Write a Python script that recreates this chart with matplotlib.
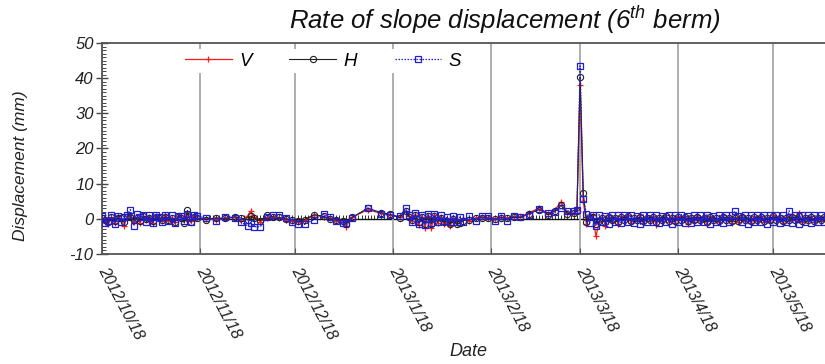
import matplotlib
matplotlib.use("Agg")
import matplotlib.pyplot as plt
import matplotlib.dates as mdates
from matplotlib.ticker import MultipleLocator, FuncFormatter, NullFormatter
import numpy as np
import pandas as pd

plt.rcParams['font.family'] = ['Liberation Sans', 'DejaVu Sans']
plt.rcParams['mathtext.fontset'] = 'custom'
plt.rcParams['mathtext.rm'] = 'Liberation Sans:italic'
plt.rcParams['mathtext.it'] = 'Liberation Sans:italic'
plt.rcParams['axes.unicode_minus'] = False

start_date = "2012-10-18"
end_date = "2013-06-16"
tick_day = 18

# measurement day offsets from 2012/10/18
days = (list(range(0, 31))
        + [33, 36, 39, 42, 44, 46, 47, 48, 50, 52, 54, 56, 58, 60, 62, 64, 67, 70]
        + [72, 74, 76, 77, 79, 84, 88, 91]
        + [94, 96, 97, 98, 99, 100, 101, 102, 103, 104, 105, 106, 107, 108, 109,
           110, 111, 112, 113, 114, 116, 118, 120, 122, 124, 126, 128, 130]
        + [132, 135, 138, 141, 143, 145, 147, 149, 150, 151, 152]
        + list(range(153, 229)))

V = ([0.3, -0.8, -1.6, 0.5, -1.2, 0.9, -0.4, -1.9, 0.7, 1.1, -0.8, 0.4, -1.1, 0.9, -0.2, 0.6,
      -1.3, 0.8, 0.2, -0.7, 1.2, -0.5, 0.3, -1.0, 0.8, 0.5, -0.3, 1.5, -0.6, 0.7, 0.2]
     + [0.0, -0.3, 0.2, 0.4, -0.5, 0.8, 2.2, 0.5, -0.8, 0.3, 0.5, 0.2, -0.3, -0.6, -0.8, -0.4, 1.0, 0.6]
     + [0.2, -0.5, -1.0, -2.2, 0.5, 2.6, 1.6, 1.0]
     + [0.5, 2.0, 0.8, -0.5, 1.2, -1.8, 0.6, -2.5, 0.9, -2.7, 1.0, -1.2, 0.4, -1.5, -0.8, -2.0,
        0.3, -1.2, -0.6, 0.2, -0.5, 0.2, 0.5, 0.3, 0.0, 0.4, 0.2, 0.6]
     + [0.5, 1.8, 3.0, 1.5, 2.5, 4.8, 1.8, 1.5, 2.5, 38.0, 5.0]
     + [-1.5, 0.8, 1.2, -5.0, -1.0, 0.5, -2.0, 1.0, -0.8, 0.6,
        -1.5, 0.9, -0.4, 1.1, -1.2, 0.3, -0.7, 1.0, -1.3, 0.6,
        -0.5, 0.8, -1.8, 0.4, -0.6, 1.2, -0.9, 0.5, -1.1, 0.7,
        -0.3, 0.9, -1.4, 0.6, -0.8, 1.0, -0.5, 0.4, -1.6, 0.8,
        -0.7, 0.3, -1.0, 1.1, -0.4, 0.6, -1.2, 0.5, -0.9, 1.0,
        -0.6, 0.2, -1.3, 0.7, -0.5, 0.9, -1.0, 0.4, -0.8, 1.2,
        -0.3, 0.6, -1.1, 0.5, -0.7, 1.0, -0.4, 1.8, -1.0, 0.6,
        -0.5, 0.8, -0.9, 0.4, -0.6, 0.7])

H = ([0.2, -0.4, -0.9, 0.4, -0.5, 0.3, 0.1, -1.0, 0.4, 0.6, -0.3, 0.2, -0.6, 0.7, 0.0, 0.3,
      -0.7, 0.5, 0.2, -0.4, 0.6, -0.2, 0.1, -0.9, 0.4, 0.3, -1.1, 2.4, -1.0, 0.4, 0.1]
     + [-0.2, 0.3, 0.1, 0.6, 0.2, -0.3, 0.8, 0.2, -0.5, 1.0, 0.6, 0.4, 0.0, -0.3, -0.6, -0.2, 1.2, 0.7]
     + [0.0, -0.3, -0.6, -1.4, 0.4, 3.0, 1.8, 1.3]
     + [0.3, 2.3, 0.6, -0.3, 1.0, -1.0, 0.5, -1.4, 0.7, -1.5, 0.8, -0.8, 0.2, -1.0, -0.5, -1.5,
        0.0, -1.6, -1.2, -0.5, -0.3, 0.1, 0.3, 0.2, 0.0, 0.3, 0.1, 0.4]
     + [0.4, 1.5, 2.6, 1.2, 2.2, 3.8, 1.5, 1.6, 2.2, 40.3, 7.3]
     + [-0.8, 0.5, 0.6, -1.5, -0.6, 0.3, -1.0, 0.6, -0.4, 0.3,
        -0.8, 0.5, -0.2, 0.7, -0.6, 0.2, -0.4, 0.6, -0.7, 0.3,
        -0.3, 0.5, -0.9, 0.2, -0.3, 0.7, -0.5, 0.3, -0.6, 0.4,
        -0.2, 0.5, -0.7, 0.3, -0.4, 0.6, -0.3, 0.2, -0.8, 0.5,
        -0.4, 0.2, -0.5, 0.6, -0.2, 0.3, -0.6, 0.3, -0.5, 0.6,
        -0.3, 0.1, -0.7, 0.4, -0.3, 0.5, -0.5, 0.2, -0.4, 0.7,
        -0.2, 0.3, -0.6, 0.3, -0.4, 0.6, -0.2, 0.9, -0.5, 0.3,
        -0.3, 0.5, -0.5, 0.2, -0.3, 0.4])

S = ([0.9, -1.3, -0.6, 1.0, -1.6, 0.9, -0.9, 0.4, 1.2, 2.6, -1.9, 1.3, 0.6, 1.2, -1.0, 1.1,
      -1.3, 1.1, 0.5, -0.9, 1.2, -0.7, 1.0, -1.3, 0.9, 0.8, -0.5, 1.3, -0.9, 1.1, 0.9]
     + [0.1, -0.5, 0.6, 0.3, -1.0, -2.0, -1.2, -2.2, -2.3, 0.6, 1.0, 1.1, 0.2, -0.8, -1.4, -1.6, -0.2, 1.3]
     + [0.4, -0.6, -1.2, -1.3, 0.3, 3.2, 1.4, 1.0]
     + [0.8, 3.0, 1.2, -0.8, 1.6, -1.5, 1.2, -1.8, 1.4, -1.2, 1.5, -1.0, 1.0, -0.5, 0.6, -1.0,
        0.9, -0.8, 0.5, -0.9, 0.8, -0.7, 0.9, 0.8, -0.6, 0.9, -0.5, 0.8]
     + [0.6, 1.2, 2.8, 1.6, 2.0, 3.0, 2.2, 2.3, 2.4, 43.5, 5.5]
     + [1.5, -1.2, 1.0, -2.0, 1.2, -1.0, 0.8, -1.5, 1.1, -0.9,
        1.0, -1.3, 1.2, -0.8, 1.0, -1.1, 0.9, -1.6, 1.1, -1.0,
        1.2, -0.9, 1.0, -1.2, 0.8, -1.0, 1.1, -1.4, 1.0, -0.8,
        1.2, -1.1, 0.9, -1.3, 1.0, -0.9, 1.1, -1.0, 1.2, -1.5,
        0.9, -1.0, 1.0, -1.2, 1.1, -0.8, 1.0, 2.2, 0.9, -1.0,
        1.2, -1.4, 1.0, -0.9, 1.0, -1.0, 1.1, -1.6, 1.0, -0.9,
        1.1, -1.2, 1.0, -1.0, 2.3, -1.1, 1.0, -1.4, 1.2, -0.9,
        1.0, -1.1, 1.2, -0.8, 1.0, -1.0])

n = min(len(days), len(V), len(H), len(S))
dates = pd.Timestamp(start_date) + pd.to_timedelta(np.array(days[:n]), unit="D")

fig = plt.figure(figsize=(8.25, 3.64), dpi=100)
ax = fig.add_axes([0.1236, 0.3022, 0.925, 0.5797])

ax.plot(dates, V[:n], color="#ff1a1a", lw=0.9, marker="+", ms=5, mew=0.9, label="V", zorder=3)
ax.plot(dates, H[:n], color="#222222", lw=0.8, marker="o", ms=4.5, mfc="none", mew=0.8, label="H", zorder=4)
ax.plot(dates, S[:n], color="#1f1fd0", lw=0.9, ls=(0, (1.2, 1.2)), marker="s", ms=5, mfc="none",
        mew=0.9, label="S", zorder=5)

ax.set_xlim(pd.Timestamp(start_date), pd.Timestamp(end_date))
ax.set_ylim(-10, 50)
ax.yaxis.set_major_locator(MultipleLocator(10))
ax.yaxis.set_minor_locator(MultipleLocator(1))
ax.xaxis.set_major_locator(mdates.MonthLocator(bymonthday=tick_day))


def fmt(x, pos):
    d = mdates.num2date(x)
    return f"{d.year}/{d.month}/{d.day}"


ax.xaxis.set_major_formatter(FuncFormatter(fmt))
ax.grid(axis="x", color="#a8a8a8", lw=1.3, zorder=0)

for sp in ["top", "bottom", "left"]:
    ax.spines[sp].set_color("#555555")
    ax.spines[sp].set_linewidth(1.3)
ax.spines["right"].set_visible(False)

ax.tick_params(axis="y", which="major", direction="inout", length=8, width=1.0, color="#444444",
               labelsize=12, pad=2)
ax.tick_params(axis="y", which="minor", direction="in", length=3, width=0.7, color="#444444")
ax.tick_params(axis="x", which="major", direction="in", length=4, color="#555555", pad=10, labelsize=11.5)
for t in ax.get_yticklabels():
    t.set_fontstyle("italic")
    t.set_color("#222222")
for t in ax.get_xticklabels():
    t.set_rotation(-62)
    t.set_ha("left")
    t.set_va("center")
    t.set_rotation_mode("anchor")
    t.set_fontstyle("italic")
    t.set_color("#222222")

# zero line with daily comb
sec = ax.secondary_xaxis(10 / 60)
sec.spines["bottom"].set_color("#111111")
sec.spines["bottom"].set_linewidth(1.0)
sec.spines["top"].set_color("#111111")
sec.spines["top"].set_linewidth(1.0)
sec.xaxis.set_major_locator(mdates.DayLocator())
sec.xaxis.set_major_formatter(NullFormatter())
sec.tick_params(axis="x", which="both", direction="in", length=3, width=0.6, color="#111111",
                labelbottom=False, labeltop=False)

leg = ax.legend(loc="center left", bbox_to_anchor=(181 / 825, 1 - 61 / 364),
                bbox_transform=fig.transFigure, ncol=3, frameon=True, facecolor="white",
                edgecolor="none", framealpha=1, borderpad=0.2, borderaxespad=0,
                handlelength=2.5, handletextpad=0.4, columnspacing=2.0,
                prop={"style": "italic", "size": 13.5})
leg.set_zorder(10)

fig.text(505 / 825, 1 - 20 / 364, r"Rate of slope displacement (6$^{th}$ berm)",
         ha="center", va="center", fontsize=18.5, style="italic", color="#111111")
fig.text(21 / 825, 1 - 166 / 364, "Displacement (mm)", rotation=90, ha="center", va="center",
         fontsize=12.5, style="italic", color="#222222")
fig.text(468 / 825, 1 - 352 / 364, "Date", ha="center", va="center", fontsize=13, style="italic",
         color="#222222")

fig.savefig("out.png", dpi=100)
